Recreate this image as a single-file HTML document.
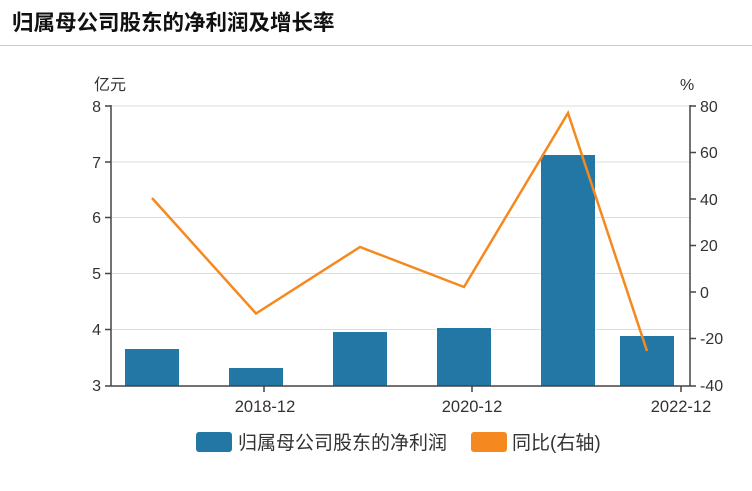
<!DOCTYPE html>
<html><head><meta charset="utf-8"><style>
body{margin:0;background:#fff;width:752px;height:486px;overflow:hidden;font-family:"Liberation Sans","Noto Sans CJK SC",sans-serif}
</style></head><body>
<svg width="752" height="486" xmlns="http://www.w3.org/2000/svg" font-family="Liberation Sans, Noto Sans CJK SC, sans-serif">
<text x="12" y="30" font-size="21.5" font-weight="bold" fill="#111">归属母公司股东的净利润及增长率</text>
<line x1="0" y1="45.5" x2="752" y2="45.5" stroke="#ccc"/>
<g stroke="#ddd" stroke-width="1">
<line x1="112" y1="106" x2="690" y2="106"/>
<line x1="112" y1="162" x2="690" y2="162"/>
<line x1="112" y1="217.5" x2="690" y2="217.5"/>
<line x1="112" y1="273.5" x2="690" y2="273.5"/>
<line x1="112" y1="329.5" x2="690" y2="329.5"/>
</g>
<g fill="#2277a4">
<rect x="125" y="349" width="54" height="37"/>
<rect x="229" y="368" width="54" height="18"/>
<rect x="333" y="332" width="54" height="54"/>
<rect x="437" y="328" width="54" height="58"/>
<rect x="541" y="155" width="54" height="231"/>
<rect x="620" y="336" width="54" height="50"/>
</g>
<polyline points="152,198 256,313.5 360,247 464,287 568,113 647,351" fill="none" stroke="#f5891f" stroke-width="2.5"/>
<g stroke="#444" stroke-width="1.5" fill="none">
<line x1="111" y1="105" x2="111" y2="386"/>
<line x1="690" y1="105" x2="690" y2="386"/>
<line x1="111" y1="386" x2="690" y2="386"/>
<line x1="105" y1="106" x2="111" y2="106"/><line x1="105" y1="162" x2="111" y2="162"/><line x1="105" y1="217.5" x2="111" y2="217.5"/><line x1="105" y1="273.5" x2="111" y2="273.5"/><line x1="105" y1="329.5" x2="111" y2="329.5"/><line x1="105" y1="386" x2="111" y2="386"/>
<line x1="690" y1="106" x2="696" y2="106"/><line x1="690" y1="152.5" x2="696" y2="152.5"/><line x1="690" y1="199" x2="696" y2="199"/><line x1="690" y1="245.5" x2="696" y2="245.5"/><line x1="690" y1="292" x2="696" y2="292"/><line x1="690" y1="338.5" x2="696" y2="338.5"/><line x1="690" y1="386" x2="696" y2="386"/>
<line x1="264" y1="386" x2="264" y2="392"/><line x1="472" y1="386" x2="472" y2="392"/><line x1="681" y1="386" x2="681" y2="392"/>
</g>
<g font-size="16" fill="#333" text-anchor="end">
<text x="101" y="112">8</text><text x="101" y="168">7</text><text x="101" y="223">6</text><text x="101" y="279">5</text><text x="101" y="335">4</text><text x="101" y="391">3</text>
</g>
<g font-size="16" fill="#333">
<text x="700" y="112">80</text><text x="700" y="158">60</text><text x="700" y="205">40</text><text x="700" y="251">20</text><text x="700" y="298">0</text><text x="700" y="344">-20</text><text x="700" y="391">-40</text>
<text x="94" y="90">亿元</text><text x="680" y="90">%</text>
</g>
<g font-size="16.5" fill="#333" text-anchor="middle">
<text x="265" y="412">2018-12</text><text x="472" y="412">2020-12</text><text x="681" y="412">2022-12</text>
</g>
<rect x="196" y="432" width="36" height="20" rx="3" fill="#2277a4"/>
<text x="238" y="449" font-size="19" fill="#333">归属母公司股东的净利润</text>
<rect x="471" y="432" width="36" height="20" rx="3" fill="#f5891f"/>
<text x="512" y="449" font-size="19" fill="#333">同比(右轴)</text>
</svg>
</body></html>
